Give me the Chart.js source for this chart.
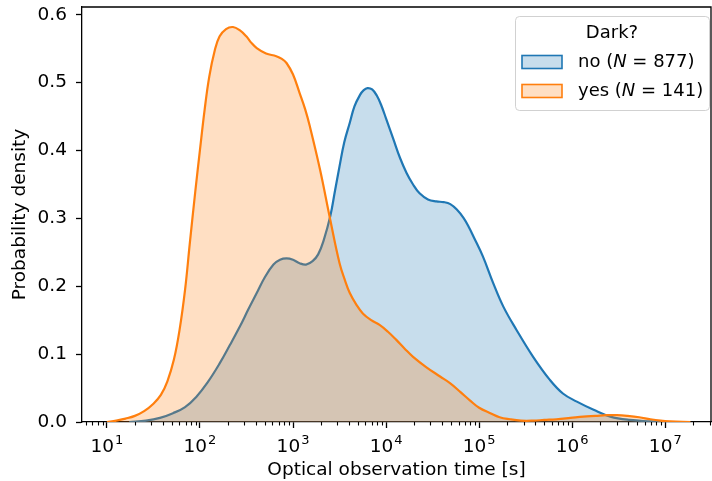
<!DOCTYPE html>
<html>
<head>
<meta charset="utf-8">
<script src="https://cdn.jsdelivr.net/npm/chart.js@4.4.1/dist/chart.umd.min.js"></script>
<style>
  html, body { margin: 0; padding: 0; background: #ffffff; }
  canvas { display: block; }
</style>
</head>
<body>
<canvas id="c" width="712" height="481"></canvas>
<script>
// ---- Data ----
// x positions given as log10 of optical observation time [s]
const noLogTime = [1.24,1.42,1.57,1.71,1.84,1.96,2.08,2.21,2.32,2.43,
                   2.52,2.61,2.70,2.79,2.86,2.93,3.00,3.07,3.14,3.21,
                   3.27,3.33,3.40,3.45,3.50,3.55,3.61,3.66,3.72,3.76,
                   3.80,3.85,3.90,3.95,4.00,4.08,4.15,4.22,4.29,4.36,
                   4.45,4.54,4.62,4.69,4.76,4.83,4.89,4.94,5.04,5.15,
                   5.26,5.40,5.58,5.76,5.90,6.05,6.23,6.41,6.62,6.84,
                   7.00];
const noDensity = [0.000,0.002,0.006,0.013,0.022,0.037,0.058,0.086,0.113,0.141,
                   0.166,0.190,0.214,0.232,0.239,0.241,0.239,0.234,0.232,0.237,
                   0.247,0.268,0.303,0.340,0.377,0.412,0.441,0.465,0.482,0.489,
                   0.492,0.490,0.481,0.466,0.447,0.416,0.389,0.367,0.350,0.337,
                   0.328,0.325,0.324,0.321,0.313,0.301,0.287,0.273,0.244,0.205,
                   0.170,0.136,0.096,0.062,0.042,0.030,0.018,0.008,0.003,0.001,
                   0.000];
const yesLogTime = [1.00,1.10,1.20,1.30,1.40,1.50,1.58,1.65,1.72,1.78,
                    1.84,1.89,1.95,2.00,2.05,2.10,2.16,2.21,2.28,2.355,
                    2.43,2.50,2.55,2.61,2.71,2.82,2.88,2.93,3.00,3.07,
                    3.13,3.18,3.29,3.40,3.50,3.56,3.61,3.68,3.75,3.84,
                    3.93,4.02,4.11,4.20,4.29,4.43,4.58,4.69,4.80,4.90,
                    5.00,5.12,5.22,5.33,5.45,5.58,5.70,5.83,5.98,6.12,
                    6.25,6.37,6.48,6.59,6.72,6.84,6.95,7.05,7.27];
const yesDensity = [0.000,0.002,0.005,0.009,0.016,0.027,0.040,0.060,0.092,0.135,
                    0.195,0.262,0.340,0.401,0.460,0.509,0.548,0.568,0.579,0.582,
                    0.577,0.568,0.559,0.551,0.543,0.539,0.535,0.529,0.512,0.485,
                    0.461,0.436,0.372,0.298,0.234,0.208,0.190,0.173,0.160,0.150,
                    0.143,0.133,0.121,0.108,0.096,0.081,0.067,0.057,0.044,0.032,
                    0.021,0.013,0.007,0.004,0.002,0.002,0.003,0.004,0.006,0.008,
                    0.009,0.010,0.010,0.009,0.007,0.004,0.002,0.001,0.000];
const seriesNames = ['no', 'yes'];
const seriesCounts = [877, 141];
const legendTitle = 'Dark?';
const xTickValues = [1e1, 1e2, 1e3, 1e4, 1e5, 1e6, 1e7];
const yTickValues = [0.0, 0.1, 0.2, 0.3, 0.4, 0.5, 0.6];
const xTitle = 'Optical observation time [s]';
const yTitle = 'Probability density';

const FONT = "'DejaVu Sans', sans-serif";
const FS = 18.5;
const SUPFS = 13;
const BLUE = '#1f77b4', ORANGE = '#ff7f0e';
const BLUE_FILL = 'rgba(31,119,180,0.25)', ORANGE_FILL = 'rgba(255,127,14,0.25)';

const toPoints = (lx, ys) => lx.map((e, i) => ({ x: Math.pow(10, e), y: ys[i] }));

// minor ticks for the log axis, top/right spines, and 10^n tick labels
const framePlugin = {
  id: 'frame',
  afterDraw(chart) {
    const ctx = chart.ctx, a = chart.chartArea, xs = chart.scales.x;
    ctx.save();
    ctx.strokeStyle = '#000';
    ctx.lineWidth = 1.1;
    for (let d = 0; d <= 7; d++) {
      for (let k = 2; k <= 9; k++) {
        const v = k * Math.pow(10, d);
        if (v < xs.min || v > xs.max) continue;
        const px = Math.round(xs.getPixelForValue(v)) + 0.5;
        ctx.beginPath(); ctx.moveTo(px, a.bottom); ctx.lineTo(px, a.bottom + 3.5); ctx.stroke();
      }
    }
    ctx.lineWidth = 1.3;
    ctx.beginPath();
    ctx.moveTo(a.left, a.top); ctx.lineTo(a.right, a.top); ctx.lineTo(a.right, a.bottom);
    ctx.stroke();
    // tick labels as 10 with raised exponent
    ctx.fillStyle = '#000';
    ctx.textBaseline = 'alphabetic';
    ctx.textAlign = 'left';
    xTickValues.forEach(v => {
      const px = xs.getPixelForValue(v);
      const ex = String(Math.round(Math.log10(v)));
      ctx.font = FS + 'px ' + FONT;
      const wb = ctx.measureText('10').width;
      ctx.font = SUPFS + 'px ' + FONT;
      const we = ctx.measureText(ex).width;
      const x0 = px - (wb + we + 1) / 2;
      ctx.font = FS + 'px ' + FONT;
      ctx.fillText('10', x0, a.bottom + 30);
      ctx.font = SUPFS + 'px ' + FONT;
      ctx.fillText(ex, x0 + wb + 1, a.bottom + 21.5);
    });
    ctx.restore();
  }
};

// legend box like the reference (frame, title, patches, mathtext-like labels)
const legendPlugin = {
  id: 'boxLegend',
  afterDraw(chart) {
    const ctx = chart.ctx, a = chart.chartArea;
    const w = 194, h = 94;
    const x0 = a.right - w - 2, y0 = a.top + 9;
    ctx.save();
    ctx.beginPath();
    ctx.roundRect(x0 + 0.5, y0 + 0.5, w, h, 4);
    ctx.fillStyle = 'rgba(255,255,255,0.8)';
    ctx.fill();
    ctx.strokeStyle = 'rgba(204,204,204,0.9)';
    ctx.lineWidth = 1;
    ctx.stroke();
    ctx.fillStyle = '#000';
    ctx.textBaseline = 'middle';
    ctx.textAlign = 'center';
    ctx.font = '18px ' + FONT;
    ctx.fillText(legendTitle, x0 + w / 2, y0 + 17);
    ctx.textAlign = 'left';
    [0, 1].forEach((i, r) => {
      const ds = chart.data.datasets.find(d => d.key === seriesNames[i]);
      const cy = y0 + 46 + r * 29;
      ctx.fillStyle = ds.backgroundColor;
      ctx.fillRect(x0 + 7, cy - 6.5, 40, 13);
      ctx.strokeStyle = ds.borderColor;
      ctx.lineWidth = 1.6;
      ctx.strokeRect(x0 + 7, cy - 6.5, 40, 13);
      ctx.fillStyle = '#000';
      let tx = x0 + 63;
      const parts = [
        [seriesNames[i] + ' (', ''],
        ['N', 'italic '],
        [' = ' + seriesCounts[i] + ')', '']
      ];
      parts.forEach(([t, st]) => {
        ctx.font = st + '18px ' + FONT;
        ctx.fillText(t, tx, cy);
        tx += ctx.measureText(t).width;
      });
    });
    ctx.restore();
  }
};

const lineStyle = { borderWidth: 2.2, fill: 'origin', pointRadius: 0, tension: 0.4 };

const chart = new Chart(document.getElementById('c'), {
  type: 'line',
  data: {
    datasets: [
      Object.assign({
        key: 'no',
        label: seriesNames[0] + ' (N = ' + seriesCounts[0] + ')',
        data: toPoints(noLogTime, noDensity),
        borderColor: BLUE,
        backgroundColor: BLUE_FILL,
        order: 1
      }, lineStyle),
      Object.assign({
        key: 'yes',
        label: seriesNames[1] + ' (N = ' + seriesCounts[1] + ')',
        data: toPoints(yesLogTime, yesDensity),
        borderColor: ORANGE,
        backgroundColor: ORANGE_FILL,
        order: 0
      }, lineStyle)
    ]
  },
  options: {
    responsive: false,
    animation: false,
    devicePixelRatio: 1,
    layout: { padding: { top: 7, right: 1, bottom: 0, left: 0 } },
    plugins: {
      legend: { display: false },
      tooltip: { enabled: false },
      filler: { propagate: false }
    },
    scales: {
      x: {
        type: 'logarithmic',
        min: 5.4,
        max: 3.1e7,
        afterBuildTicks: (s) => { s.ticks = xTickValues.map(v => ({ value: v, major: true })); },
        afterFit: (s) => { s.height = 59; s.paddingLeft = 0; s.paddingRight = 0; },
        ticks: {
          autoSkip: false,
          maxRotation: 0,
          padding: 3,
          color: '#000',
          font: { family: FONT, size: FS },
          callback: () => ''
        },
        grid: {
          drawOnChartArea: false,
          drawTicks: true,
          tickLength: 6,
          tickWidth: 1.3,
          tickColor: '#000'
        },
        border: { display: true, color: '#000', width: 1.3 },
        title: {
          display: true,
          text: xTitle,
          color: '#000',
          font: { family: FONT, size: FS },
          padding: { top: 0, bottom: 0 }
        }
      },
      y: {
        min: 0,
        max: 0.6115,
        afterBuildTicks: (s) => { s.ticks = yTickValues.map(v => ({ value: v })); },
        afterFit: (s) => { s.width = 82; s.paddingTop = 0; s.paddingBottom = 0; },
        ticks: {
          padding: 9,
          color: '#000',
          font: { family: FONT, size: FS },
          callback: (v) => Number(v).toFixed(1)
        },
        grid: {
          drawOnChartArea: false,
          drawTicks: true,
          tickLength: 6,
          tickWidth: 1.3,
          tickColor: '#000'
        },
        border: { display: true, color: '#000', width: 1.3 },
        title: {
          display: true,
          text: yTitle,
          color: '#000',
          font: { family: FONT, size: FS },
          padding: { top: 9, bottom: 0 }
        }
      }
    }
  },
  plugins: [framePlugin, legendPlugin]
});
</script>
</body>
</html>
